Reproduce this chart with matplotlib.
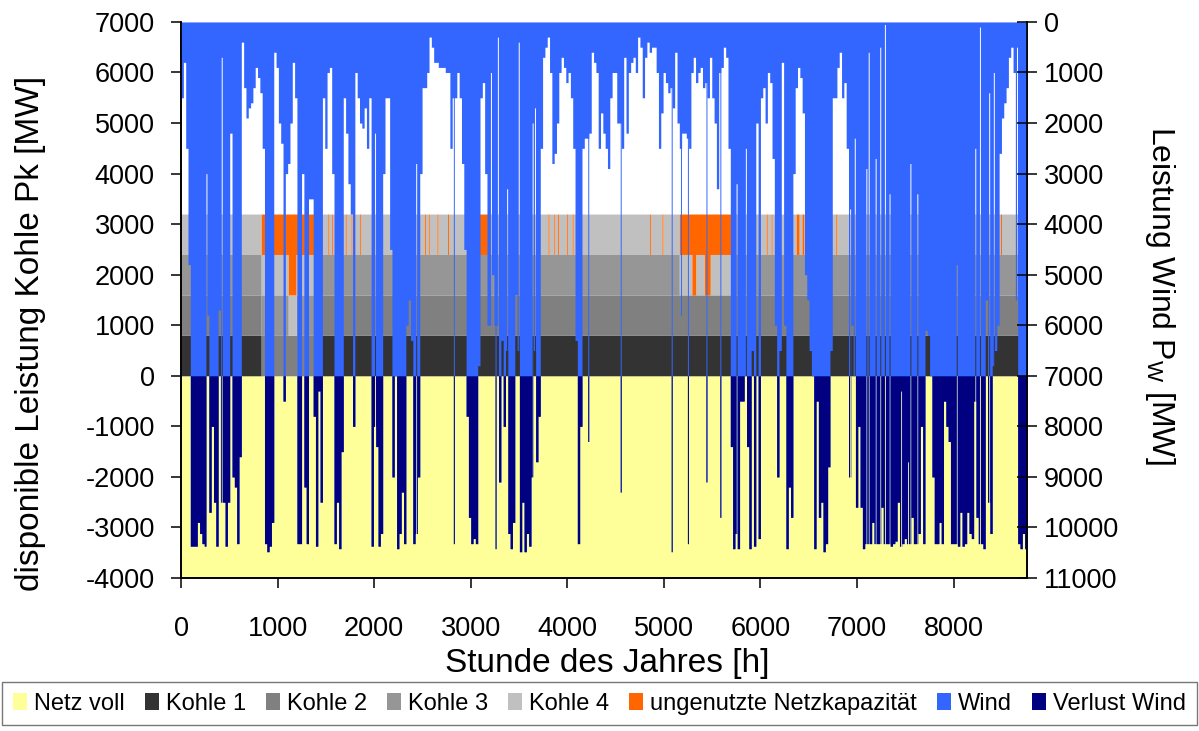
import numpy as np
import matplotlib.pyplot as plt
from matplotlib.patches import Patch

plt.rcParams["font.family"] = ["Liberation Sans", "DejaVu Sans"]
plt.rcParams["mathtext.fontset"] = "custom"
plt.rcParams["mathtext.rm"] = "Liberation Sans"
plt.rcParams["axes.unicode_minus"] = False

# Windleistung je Tag [MW] (rechte Achse, von oben nach unten)
wind_tag = [
    1500, 800, 2500, 4800, 10370, 10370, 10370, 9900, 10120, 10320,      # 0
    10370, 5800, 9700, 8000, 9500, 10370, 5700, 9500, 9500, 10370,       # 10
    9500, 2200, 9000, 9200, 10320, 8600, 400, 1300, 1900, 1700,          # 20
    1600, 1300, 900, 1100, 1400, 2500, 10320, 10480, 10370, 9900,        # 30
    600, 900, 2000, 2400, 7500, 3000, 2800, 2000, 800, 1500,             # 40
    10320, 10320, 3000, 9200, 10320, 3500, 3500, 7800, 10370, 7300,      # 50
    9500, 1500, 2500, 1000, 900, 3000, 10320, 9500, 10420, 8500,         # 60
    1500, 2200, 3200, 3800, 8000, 1000, 1500, 2000, 2100, 1700,          # 70
    2500, 1500, 10370, 8000, 8400, 10370, 10120, 3000, 1500, 1500,       # 80
    4500, 9000, 7000, 10420, 10120, 9300, 10320, 6000, 5500, 6300,       # 90
    10320, 10120, 9000, 3000, 1300, 1300, 1000, 300, 500, 800,           # 100
    800, 900, 900, 900, 1000, 1000, 2500, 1500, 1500, 1000,              # 110
    1500, 2800, 4500, 7800, 9800, 10320, 10220, 10320, 6800, 1500,       # 120
    1200, 3000, 6000, 6000, 5000, 6000, 6000, 9100, 6300, 8000,          # 130
    6500, 10120, 10420, 9900, 5400, 6500, 10480, 9500, 10480, 10120,     # 140
    10370, 9000, 6500, 8700, 7800, 2500, 700, 500, 300, 1000,            # 150
    2800, 2600, 2000, 1000, 700, 900, 1200, 1000, 1500, 2500,            # 160
    6300, 10320, 8000, 2500, 2300, 2300, 2200, 600, 800, 1000,           # 170
    2500, 1800, 2200, 2500, 2900, 1500, 1000, 1000, 2000, 2000,          # 180
    2500, 700, 2200, 1000, 800, 700, 1000, 300, 500, 1500,               # 190
    700, 400, 600, 500, 500, 1000, 2500, 1800, 1000, 1200,               # 200
    1400, 1300, 1700, 600, 2000, 2500, 2200, 2200, 2300, 2500,           # 210
    1000, 700, 1200, 1000, 900, 1300, 1200, 1500, 700, 1500,             # 220
    2000, 3300, 1000, 900, 500, 700, 2500, 8400, 10420, 10120,           # 230
    10420, 7500, 7500, 7000, 8400, 10420, 6500, 10370, 2000, 10220,      # 240
    1500, 1300, 2000, 1000, 1200, 2700, 6000, 9000, 6500, 800,           # 250
    6000, 10420, 9200, 9800, 3000, 1300, 900, 1100, 1800, 5000,          # 260
    5500, 6500, 7000, 10420, 7500, 9800, 9500, 10480, 10320, 8800,       # 270
    6500, 1500, 1500, 900, 600, 1500, 1200, 2500, 9000, 6000,            # 280
    7000, 9600, 8000, 9600, 10420, 10320, 10320, 10320, 9900, 10320,     # 290
    10320, 10320, 9600, 10320, 10320, 10320, 10370, 10320, 10270, 9500,  # 300
    10370, 10320, 10220, 10320, 10320, 9800, 10320, 10320, 10120, 8000,  # 310
    10320, 6100, 6200, 7000, 9000, 10320, 10320, 9900, 10320, 7500,      # 320
    8000, 8300, 10320, 10320, 10320, 10370, 9700, 10370, 10320, 9700,    # 330
    10120, 10220, 7500, 9800, 10320, 10320, 10420, 5500, 9500, 10120,    # 340
    6800, 6500, 6000, 2600, 1900, 1600, 1300, 700, 500, 1000,            # 350
    5500, 10320, 10420, 10120, 10420,                                    # 360
]

# kurze Ausreisser (einzelne Stunden)
spitze_stunde = [258, 416, 2004, 2430, 2820, 3204, 3252, 3276, 3372, 3492,
                 3636, 3660, 4212, 4548, 5076, 5172, 5244, 5436, 5580, 5748,
                 5844, 6924, 6972, 7092, 7116, 7188, 7236, 7284, 7332, 7452,
                 7524, 7548, 7620, 8028, 8220, 8268, 8364, 8412, 8652]
spitze_wind = [3000, 700, 2200, 2800, 10320, 1000, 10420, 300, 3300, 400,
               2000, 1700, 8300, 9300, 10480, 5800, 10320, 9100, 9800, 3200,
               2500, 3700, 2300, 2900, 600, 2700, 500, 50, 3400, 7300,
               8700, 2800, 3400, 4800, 2500, 100, 1400, 1000, 500]

# Ausfaelle der Kohlebloecke
ausfall_block = [1, 3, 4, 3, 4, 4, 4, 4,
                 4, 4, 4, 4, 4, 4, 4, 4, 4, 4, 4, 4, 4, 4, 4, 4, 4, 4, 4, 4]
ausfall_start = [830, 1110, 3080, 5160, 5290, 5420, 6370, 6430,
                 1520, 1560, 1700, 1760, 1850, 2520, 2560, 2650, 2760, 3800,
                 3860, 3900, 3990, 4050, 4850, 4980, 6060, 6110, 6780, 8486]
ausfall_dauer = [620, 80, 100, 550, 40, 60, 30, 20,
                 10, 10, 10, 10, 10, 10, 10, 10, 10, 10,
                 10, 10, 10, 10, 10, 10, 10, 10, 10, 10]

block_leistung = 800
namen = ["Netz voll", "Kohle 1", "Kohle 2", "Kohle 3", "Kohle 4",
         "ungenutzte Netzkapazität", "Wind", "Verlust Wind"]
farben = ["#FFFF99", "#333333", "#808080", "#969696", "#C0C0C0",
          "#FF6600", "#3366FF", "#000080"]

# stuendliche Reihen
wind = np.repeat(np.array(wind_tag, dtype=float), 24)
for h, w in zip(spitze_stunde, spitze_wind):
    wind[h:h + 10] = w
an = np.ones((4, 8760))
for b, s, d in zip(ausfall_block, ausfall_start, ausfall_dauer):
    an[b - 1, s:s + d] = 0

x = np.arange(8761)
ext = lambda a: np.append(a, a[-1])

fig = plt.figure(figsize=(11.99, 7.31), dpi=100)
ax = fig.add_axes([0.151, 0.2093, 0.7055, 0.7607])
ax.fill_between(x, -4000, 0, color=farben[0], lw=0)
unten = np.zeros(8760)
for k in range(4):
    oben = unten + block_leistung * an[k]
    ax.fill_between(x, ext(unten), ext(oben), step="post", color=farben[k + 1], lw=0)
    unten = oben
ax.fill_between(x, ext(unten), 4 * block_leistung, step="post", color=farben[5], lw=0)

ax2 = ax.twinx()
ax2.fill_between(x, 0, ext(wind), step="post", color=farben[6], lw=0)
ax2.fill_between(x, 7000, ext(np.maximum(wind, 7000)), step="post", color=farben[7], lw=0)

ax.set_xlim(0, 8760)
ax.set_ylim(-4000, 7000)
ax2.set_ylim(11000, 0)
ax.set_xticks(range(0, 8001, 1000))
ax.set_yticks(range(-4000, 7001, 1000))
ax2.set_yticks(range(0, 11001, 1000))
ax.tick_params(labelsize=19.5, length=7, width=1.1)
ax.tick_params(axis="x", pad=20)
ax.tick_params(axis="y", pad=12)
ax2.tick_params(labelsize=19.5, length=14, width=1.1, direction="inout", pad=5)
for a in (ax, ax2):
    a.spines["top"].set_visible(False)
    for s in ("left", "right", "bottom"):
        a.spines[s].set_linewidth(1.2)

ax.set_xlabel("Stunde des Jahres [h]", fontsize=24, va="center")
ax.xaxis.set_label_coords(0.504, -0.153)
ax.set_ylabel("disponible Leistung Kohle Pk [MW]", fontsize=24, va="center")
ax.yaxis.set_label_coords(-0.178, 0.44)
ax2.set_ylabel("Leistung Wind P$_\\mathrm{W}$ [MW]", fontsize=23, rotation=270, va="center")
ax2.yaxis.set_label_coords(1.157, 0.508)

handles = [Patch(facecolor=c, edgecolor="none") for c in farben]
fig.legend(handles, namen, loc="lower left", bbox_to_anchor=(0.002, 0.008, 0.996, 0.058),
           mode="expand", ncol=8, fontsize=17, frameon=True, fancybox=False,
           edgecolor="#555555", handlelength=0.6, handleheight=0.7,
           handletextpad=0.3, columnspacing=0.8, borderpad=0.45, borderaxespad=0)

fig.savefig("out.png", dpi=100)
